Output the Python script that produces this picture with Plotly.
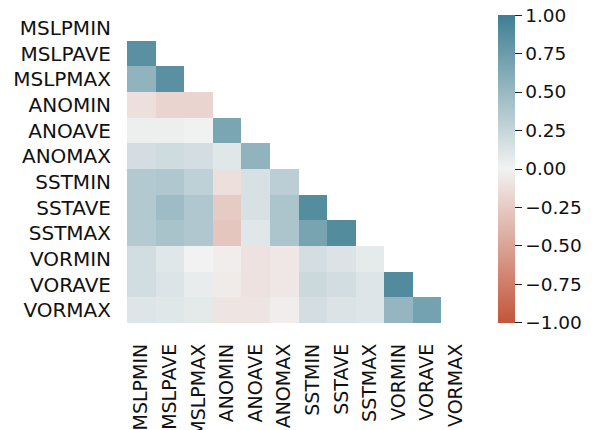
import plotly.graph_objects as go

labels = ["MSLPMIN", "MSLPAVE", "MSLPMAX", "ANOMIN", "ANOAVE", "ANOMAX",
          "SSTMIN", "SSTAVE", "SSTMAX", "VORMIN", "VORAVE", "VORMAX"]

# lower-triangle correlation values (row i, columns 0..i-1)
lower = [
    [],
    [0.85],
    [0.55, 0.85],
    [-0.12, -0.19, -0.19],
    [0.03, 0.03, 0.01, 0.67],
    [0.17, 0.20, 0.17, 0.10, 0.55],
    [0.36, 0.37, 0.29, -0.12, 0.15, 0.31],
    [0.36, 0.47, 0.37, -0.25, 0.15, 0.39, 0.88],
    [0.35, 0.41, 0.37, -0.28, 0.10, 0.39, 0.68, 0.89],
    [0.18, 0.10, 0.00, -0.03, -0.10, -0.07, 0.17, 0.13, 0.07],
    [0.18, 0.12, 0.05, -0.05, -0.10, -0.07, 0.22, 0.18, 0.11, 0.90],
    [0.11, 0.10, 0.08, -0.08, -0.08, -0.03, 0.17, 0.13, 0.11, 0.52, 0.70],
]

cbar_ticks = [-1, -0.75, -0.5, -0.25, 0, 0.25, 0.5, 0.75, 1]
cbar_text = ["\u22121.00", "\u22120.75", "\u22120.50", "\u22120.25", "0.00",
             "0.25", "0.50", "0.75", "1.00"]

n = len(labels)
z = [[(lower[i][j] if j < i else None) for j in range(n)] for i in range(n)]

colorscale = [[0.0, "#c3553a"], [0.5, "#f2f2f2"], [1.0, "#3f7f93"]]

tick_pos = [t * 0.9999 for t in cbar_ticks]

fig = go.Figure(go.Heatmap(
    z=z, x=labels, y=labels, zmin=-1, zmax=1, colorscale=colorscale,
    xgap=0, ygap=0, hoverongaps=False,
    colorbar=dict(
        x=1.083, xanchor="left", xref="paper", y=0.5, yanchor="middle",
        thickness=17, thicknessmode="pixels", len=308, lenmode="pixels",
        ypad=0, xpad=0,
        outlinewidth=0, ticks="outside", ticklen=7, tickwidth=1.2, tickcolor="#222",
        tickvals=tick_pos, ticktext=cbar_text,
        tickfont=dict(family="DejaVu Sans", size=18.5, color="#111"),
    ),
))

fig.update_layout(
    width=596, height=430,
    margin=dict(l=127, r=125.5, t=15, b=107),
    paper_bgcolor="white", plot_bgcolor="white",
    font=dict(family="DejaVu Sans", size=20, color="#111"),
    xaxis=dict(tickangle=-90, showgrid=False, zeroline=False, ticks="",
               automargin=False, ticklabelstandoff=16, tickfont=dict(size=19)),
    yaxis=dict(autorange="reversed", showgrid=False, zeroline=False, ticks="",
               automargin=False, ticklabelstandoff=15, tickfont=dict(size=20)),
)

# remove the browser's default 8px body margin so the figure sits at (0, 0)
fig.write_html("out.html", config={"displayModeBar": False},
               post_script="document.body.style.margin='0';")
